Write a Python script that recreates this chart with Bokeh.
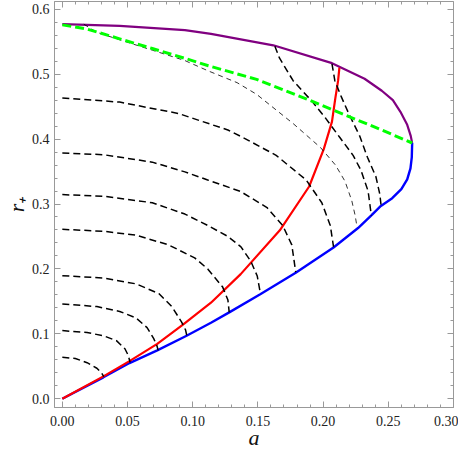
from bokeh.plotting import figure
from bokeh.models import Range1d, LinearAxis, FixedTicker, NumeralTickFormatter
from bokeh.embed import file_html
from bokeh.resources import INLINE

# ---------------- data ----------------
a_purple = [0.0, 0.044, 0.094, 0.114, 0.1618, 0.2068, 0.2318, 0.245, 0.2535, 0.2593, 0.2645, 0.2672, 0.2683]
r_purple = [0.577, 0.5745, 0.568, 0.562, 0.5445, 0.517, 0.493, 0.4745, 0.460, 0.442, 0.422, 0.405, 0.394]

a_blue = [0.0, 0.0315, 0.0515, 0.0728, 0.0953, 0.114, 0.128, 0.1518, 0.179, 0.208, 0.2268, 0.2368, 0.2443, 0.2530, 0.2600, 0.2645, 0.2670, 0.2680, 0.2683]
r_blue = [0.0, 0.033, 0.055, 0.0745, 0.097, 0.117, 0.133, 0.161, 0.194, 0.233, 0.263, 0.282, 0.297, 0.309, 0.323, 0.338, 0.355, 0.372, 0.394]

a_red = [0.0, 0.0315, 0.0515, 0.0728, 0.0928, 0.114, 0.1368, 0.1668, 0.1893, 0.2005, 0.2068, 0.2093, 0.2115, 0.2125]
r_red = [0.0, 0.0345, 0.058, 0.0845, 0.1145, 0.148, 0.192, 0.2595, 0.327, 0.3845, 0.427, 0.462, 0.49, 0.51]

a_green = [0.0, 0.019, 0.044, 0.069, 0.094, 0.112, 0.149, 0.187, 0.217, 0.245, 0.2683]
r_green = [0.576, 0.5695, 0.5545, 0.5395, 0.5245, 0.513, 0.492, 0.462, 0.437, 0.414, 0.394]

# dashed contours
a_c1 = [0.0, 0.010, 0.019, 0.0265, 0.0300, 0.0318]
r_c1 = [0.064, 0.062, 0.0555, 0.047, 0.040, 0.034]
a_c2 = [0.0, 0.019, 0.0315, 0.0415, 0.048, 0.0505, 0.052]
r_c2 = [0.105, 0.102, 0.097, 0.0895, 0.077, 0.067, 0.056]
a_c3 = [0.0, 0.0265, 0.044, 0.0565, 0.065, 0.070, 0.0725, 0.0735]
r_c3 = [0.146, 0.142, 0.1345, 0.1245, 0.1095, 0.093, 0.082, 0.0745]
a_c4 = [0.0, 0.0315, 0.0565, 0.074, 0.084, 0.0915, 0.0945, 0.0955]
r_c4 = [0.1895, 0.186, 0.177, 0.162, 0.142, 0.118, 0.106, 0.097]
a_c5 = [0.0, 0.0315, 0.0565, 0.0815, 0.1015, 0.1115, 0.123, 0.127, 0.128]
r_c5 = [0.261, 0.258, 0.252, 0.237, 0.217, 0.200, 0.172, 0.152, 0.133]
a_c6 = [0.0, 0.0315, 0.069, 0.094, 0.1115, 0.127, 0.137, 0.1445, 0.1495, 0.152]
r_c6 = [0.3145, 0.312, 0.302, 0.2845, 0.267, 0.250, 0.234, 0.212, 0.189, 0.161]
a_c7 = [0.0, 0.0315, 0.069, 0.094, 0.1115, 0.1365, 0.157, 0.169, 0.176, 0.179]
r_c7 = [0.3785, 0.376, 0.3645, 0.3495, 0.337, 0.3195, 0.2945, 0.267, 0.237, 0.195]
a_c8 = [0.0, 0.044, 0.089, 0.127, 0.139, 0.164, 0.187, 0.199, 0.2055, 0.208]
r_c8 = [0.4635, 0.457, 0.4395, 0.414, 0.402, 0.375, 0.337, 0.302, 0.267, 0.234]
a_c9 = [0.0165, 0.0265, 0.044, 0.069, 0.094, 0.112, 0.134, 0.149, 0.177, 0.198, 0.2095, 0.2168, 0.222, 0.2245, 0.226]
r_c9 = [0.577, 0.5645, 0.553, 0.537, 0.521, 0.505, 0.487, 0.469, 0.424, 0.387, 0.36, 0.335, 0.305, 0.283, 0.265]
a_c10 = [0.163, 0.1665, 0.177, 0.192, 0.202, 0.213, 0.223, 0.229, 0.2345, 0.237]
r_c10 = [0.543, 0.525, 0.49, 0.457, 0.432, 0.402, 0.375, 0.352, 0.32, 0.282]
a_c11 = [0.2068, 0.209, 0.214, 0.2195, 0.228, 0.234, 0.2405, 0.2435, 0.2445]
r_c11 = [0.516, 0.49, 0.465, 0.44, 0.405, 0.372, 0.342, 0.315, 0.297]

x_major = [0.00, 0.05, 0.10, 0.15, 0.20, 0.25, 0.30]
y_major = [0.0, 0.1, 0.2, 0.3, 0.4, 0.5, 0.6]
x_minor = [round(i * 0.01, 4) for i in range(0, 31) if i % 5 != 0]
y_minor = [round(i * 0.02, 4) for i in range(-1, 31) if i % 5 != 0]

x_label = "a"
y_label = "r\u208a"

X_START, X_END = -0.006, 0.30
Y_START, Y_END = -0.0135, 0.612

# ---------------- figure ----------------
p = figure(width=458, height=452,
           x_range=Range1d(X_START, X_END), y_range=Range1d(Y_START, Y_END),
           output_backend="svg", toolbar_location=None,
           min_border_left=5, min_border_right=5, min_border_top=1, min_border_bottom=5,
           x_axis_label=x_label, y_axis_label=y_label)
p.grid.visible = False
p.outline_line_color = "#999999"
p.background_fill_color = "white"
p.border_fill_color = "white"

bottom = p.xaxis[0]
left = p.yaxis[0]
bottom.ticker = FixedTicker(ticks=x_major, minor_ticks=x_minor)
left.ticker = FixedTicker(ticks=y_major, minor_ticks=y_minor)
bottom.formatter = NumeralTickFormatter(format="0.00")
left.formatter = NumeralTickFormatter(format="0.0")

frame_color = "#999999"
for ax in (bottom, left):
    ax.axis_line_color = frame_color
    ax.major_tick_line_color = frame_color
    ax.minor_tick_line_color = frame_color
    ax.major_tick_in = 6
    ax.major_tick_out = 0
    ax.minor_tick_in = 3
    ax.minor_tick_out = 0
    ax.major_label_text_font = "Liberation Serif"
    ax.major_label_text_font_size = "14px"
    ax.major_label_text_color = "#222222"
    ax.axis_label_text_font = "Liberation Serif"
    ax.axis_label_text_font_style = "italic"
    ax.axis_label_text_font_size = "22px"
    ax.axis_label_text_color = "#111111"

bottom.major_label_standoff = 8
bottom.axis_label_standoff = -4
left.major_label_standoff = 5
left.axis_label_standoff = 0

# tick marks on the top and right frame edges (no labels), pinned to the frame edge
def tick_axis(ticks, length, loc):
    ax = LinearAxis(ticker=FixedTicker(ticks=[], minor_ticks=ticks), fixed_location=loc)
    ax.axis_line_color = frame_color
    ax.minor_tick_line_color = frame_color
    ax.minor_tick_in = length
    ax.minor_tick_out = 0
    ax.major_label_standoff = 0
    ax.axis_label_standoff = 0
    ax.axis_label = None
    return ax

p.add_layout(tick_axis(x_major, 6, Y_END), "above")
p.add_layout(tick_axis(x_minor, 3, Y_END), "above")
p.add_layout(tick_axis(y_major, 6, X_END), "right")
p.add_layout(tick_axis(y_minor, 3, X_END), "right")

# colored curves
p.line(a_purple, r_purple, line_color="#800080", line_width=2.2)
p.line(a_blue, r_blue, line_color="#0000ff", line_width=2.4)
p.line(a_red, r_red, line_color="#ff0000", line_width=2.2)

# dashed contours
thick = [(a_c1, r_c1), (a_c2, r_c2), (a_c3, r_c3), (a_c4, r_c4), (a_c5, r_c5),
         (a_c6, r_c6), (a_c7, r_c7), (a_c8, r_c8), (a_c10, r_c10), (a_c11, r_c11)]
for xs, ys in thick:
    p.line(xs, ys, line_color="black", line_width=1.5, line_dash="7 4")
p.line(a_c9, r_c9, line_color="black", line_width=0.8, line_dash="5 4")

p.line(a_green, r_green, line_color="#00ff00", line_width=3, line_dash="9 4")

open("out.html", "w").write(file_html(p, INLINE))
